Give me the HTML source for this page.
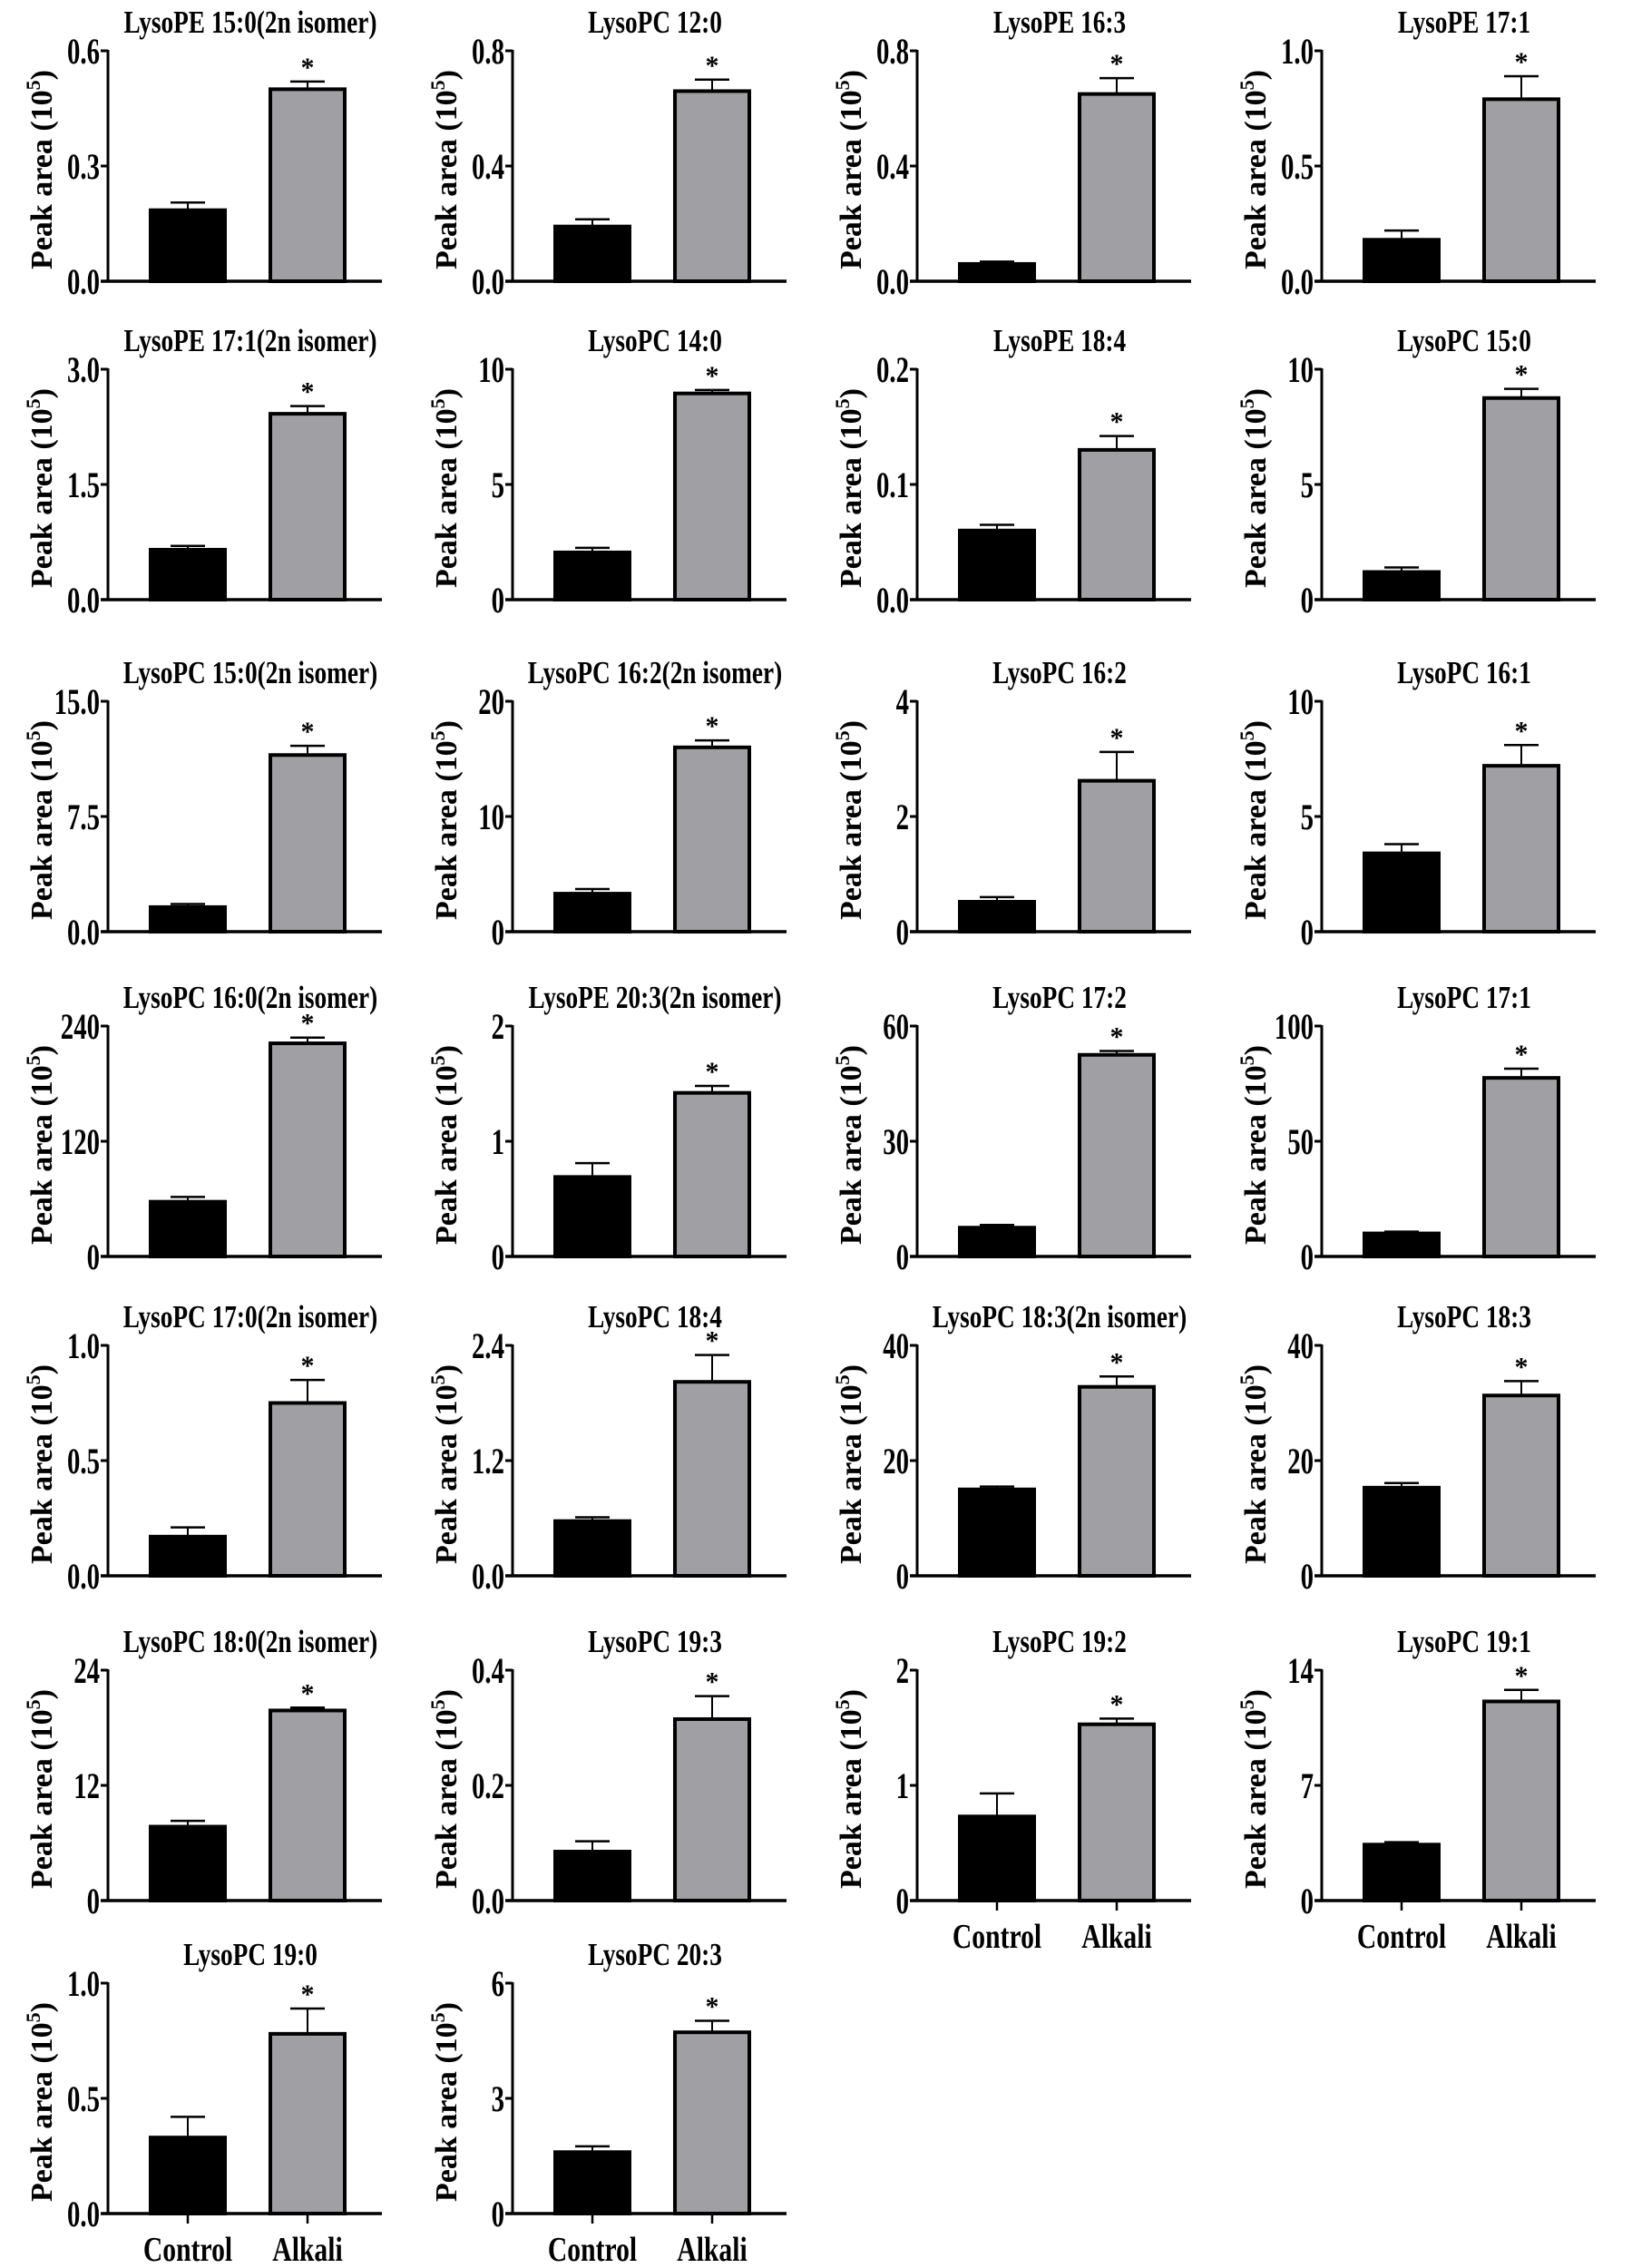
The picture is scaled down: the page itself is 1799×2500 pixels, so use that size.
<!DOCTYPE html>
<html><head><meta charset="utf-8"><style>
html,body{margin:0;padding:0;background:#fff;}
svg{display:block;}
text{font-family:"Liberation Serif",serif;font-weight:bold;fill:#000;}
</style></head><body>
<svg id="chart" width="1799" height="2500" viewBox="0 0 1799 2500" xmlns="http://www.w3.org/2000/svg"></svg>
<script>
const titles = ["LysoPE 15:0(2n isomer)","LysoPC 12:0","LysoPE 16:3","LysoPE 17:1","LysoPE 17:1(2n isomer)","LysoPC 14:0","LysoPE 18:4","LysoPC 15:0","LysoPC 15:0(2n isomer)","LysoPC 16:2(2n isomer)","LysoPC 16:2","LysoPC 16:1","LysoPC 16:0(2n isomer)","LysoPE 20:3(2n isomer)","LysoPC 17:2","LysoPC 17:1","LysoPC 17:0(2n isomer)","LysoPC 18:4","LysoPC 18:3(2n isomer)","LysoPC 18:3","LysoPC 18:0(2n isomer)","LysoPC 19:3","LysoPC 19:2","LysoPC 19:1","LysoPC 19:0","LysoPC 20:3"];
const yMax = [0.6,0.8,0.8,1.0,3.0,10,0.2,10,15,20,4,10,240,2,60,100,1.0,2.4,40,40,24,0.4,2,14,1.0,6];
const tickLabels = [["0.0","0.3","0.6"],["0.0","0.4","0.8"],["0.0","0.4","0.8"],["0.0","0.5","1.0"],["0.0","1.5","3.0"],["0","5","10"],["0.0","0.1","0.2"],["0","5","10"],["0.0","7.5","15.0"],["0","10","20"],["0","2","4"],["0","5","10"],["0","120","240"],["0","1","2"],["0","30","60"],["0","50","100"],["0.0","0.5","1.0"],["0.0","1.2","2.4"],["0","20","40"],["0","20","40"],["0","12","24"],["0.0","0.2","0.4"],["0","1","2"],["0","7","14"],["0.0","0.5","1.0"],["0","3","6"]];
const controlVals = [0.185,0.19,0.06,0.18,0.65,2.05,0.06,1.2,1.6,3.3,0.52,3.4,57,0.69,7.5,10,0.17,0.57,15,15.3,7.7,0.085,0.73,3.4,0.33,1.6];
const controlErr = [0.02,0.025,0.008,0.04,0.05,0.2,0.005,0.2,0.2,0.4,0.08,0.4,5,0.12,0.7,0.8,0.04,0.04,0.5,0.8,0.6,0.018,0.2,0.15,0.09,0.15];
const alkaliVals = [0.50,0.66,0.65,0.79,2.42,8.95,0.13,8.75,11.5,16.0,2.62,7.2,222,1.42,52.5,77.5,0.75,2.02,32.8,31.3,19.8,0.315,1.53,12.1,0.78,4.72];
const alkaliErr = [0.02,0.04,0.055,0.1,0.1,0.15,0.012,0.4,0.6,0.6,0.5,0.9,6,0.06,1,4,0.1,0.28,1.8,2.5,0.3,0.04,0.05,0.7,0.11,0.3];
const groups = ["Control","Alkali"];
const showX = [22,23,24,25];

const NS="http://www.w3.org/2000/svg";
const svg=document.getElementById('chart');
function mk(tag,attrs,parent){const e=document.createElementNS(NS,tag);for(const k in attrs)e.setAttribute(k,attrs[k]);(parent||svg).appendChild(e);return e;}
const colX=[119,565,1011,1457];
const rowZero=[310,661,1027,1385,1737,2095,2440];
const plotH=254, axisLen=302;

titles.forEach((t,i)=>{
  const ax=colX[i%4], y0=rowZero[Math.floor(i/4)];
  const g=mk('g',{});
  
  
  const yS=v=>y0-v/yMax[i]*plotH;
  const tt=mk('text',{transform:`translate(${ax+157},${y0-plotH-20}) scale(0.78,1)`,'text-anchor':'middle','font-size':35},g);
  tt.textContent=t;
  
  
  const yl=mk('text',{transform:`translate(${ax-62},${y0-plotH/2+4}) rotate(-90)`,'text-anchor':'middle','font-size':34},g);
  
  
  yl.appendChild(document.createTextNode('Peak area (10'));
  const sup=mk('tspan',{'font-size':22,dy:-13},yl);sup.textContent='5';
  const cl=mk('tspan',{dy:13},yl);cl.textContent=')';
  const bx=[ax+45,ax+177], bw=86;
  [[controlVals,controlErr,'#000'],[alkaliVals,alkaliErr,'#a0a0a4']].forEach((s,j)=>{
    const v=s[0][i], e=s[1][i], cx=bx[j]+bw/2;
    const top=yS(v+e);
    mk('line',{x1:cx,x2:cx,y1:yS(v),y2:top,stroke:'#000','stroke-width':2},g);
    mk('line',{x1:cx-19,x2:cx+19,y1:top,y2:top,stroke:'#000','stroke-width':2.5},g);
    const r=mk('rect',{x:bx[j]+2,y:yS(v),width:bw-4,height:y0-yS(v),fill:s[2],stroke:'#000','stroke-width':4},g);
    
    
    if(j===1){
      const st=mk('text',{x:cx,y:top-6,'text-anchor':'middle','font-size':30,'font-weight':'normal'},g);
      st.textContent='*';
      
      
    }
  });
  const ya=mk('line',{x1:ax,x2:ax,y1:y0-plotH-1,y2:y0+1.5,stroke:'#000','stroke-width':3},g);
  
  
  const xa=mk('line',{x1:ax-8,x2:ax+axisLen,y1:y0,y2:y0,stroke:'#000','stroke-width':3.5},g);
  
  
  tickLabels[i].forEach((lab,k)=>{
    const ty=y0-k/2*plotH;
    mk('line',{x1:ax-8,x2:ax,y1:ty,y2:ty,stroke:'#000','stroke-width':3},g);
    const tl=mk('text',{transform:`translate(${ax-9},${ty+14}) scale(0.72,1)`,'text-anchor':'end','font-size':40},g);
    tl.textContent=lab;
    
    
  });
  if(showX.includes(i)){
    groups.forEach((gname,j)=>{
      const cx=bx[j]+bw/2;
      mk('line',{x1:cx,x2:cx,y1:y0,y2:y0+11,stroke:'#000','stroke-width':2.5},g);
      const xl=mk('text',{transform:`translate(${cx},${y0+52}) scale(0.78,1)`,'text-anchor':'middle','font-size':38},g);
      xl.textContent=gname;
      
      
    });
  }
});
</script>
</body></html>
